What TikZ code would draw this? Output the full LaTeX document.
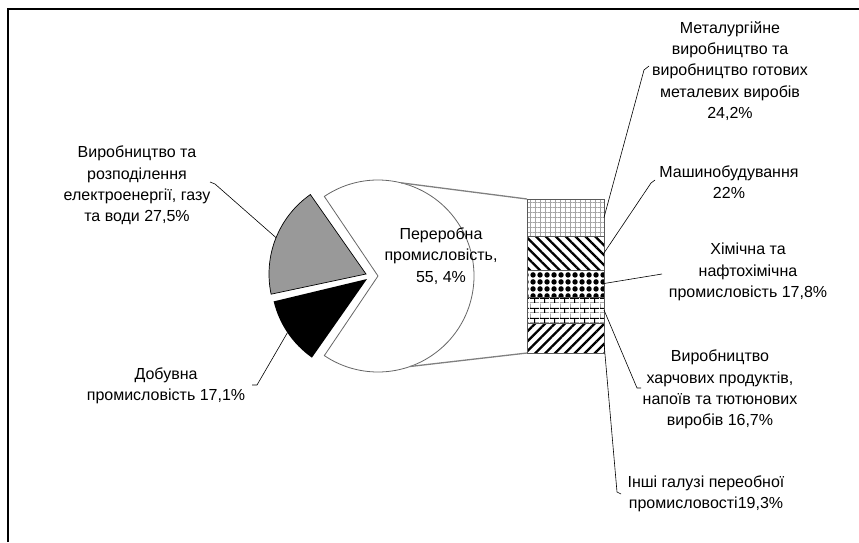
\documentclass[tikz,border=0pt]{standalone}
\usepackage{fontspec}
\setmainfont{Liberation Sans}
\usepackage{tikz}
\usetikzlibrary{positioning,patterns.meta,calc}

\tikzdeclarepattern{
  name=brickwall,
  type=uncolored,
  bounding box={(0,0) and (10pt,10pt)},
  tile size={(10pt,10pt)},
  code={
    \draw[line width=1pt] (0,0)--(10pt,0) (0,5pt)--(10pt,5pt) (5pt,0)--(5pt,5pt) (0,5pt)--(0,10pt);
  }
}

\begin{document}
\begin{tikzpicture}[x=1pt,y=1pt,node distance=0pt,outer sep=0pt,inner sep=0pt]
      \tikzset{segment/.style={shape=rectangle,minimum width=77pt,draw=gray!70!black,line width=0.7pt}}
      \tikzset{note/.style={align=center,font=\fontsize{16}{21.3}\selectfont}}
      \tikzset{leader/.style={draw=black,line width=0.6pt}}
      \tikzset{link/.style={draw=gray,line width=1.3pt}}

      \useasboundingbox (0,0) rectangle (859,-542);
      \draw[line width=1.2pt] (8,-542) -- (8,-9) -- (859,-9);

      % pie
      \coordinate (white) at (378,-276);
      \coordinate (grey) at (366,-274);
      \coordinate (dark) at (367,-279);
      \draw[gray!80!black,line width=0.8pt,fill=white] (white) -- ++(124:96) arc[start angle=124,end angle=-124,radius=96] -- cycle;
      \draw[black,line width=0.7pt,fill=black!40] (grey) -- ++(125:97) arc[start angle=125,end angle=192,radius=97] -- cycle;
      \fill[black] (dark) -- ++(193.5:96) arc[start angle=193.5,end angle=235,radius=96] -- cycle;
      \node [note] (proc) at (441,-256) {Переробна\\промисловість,\\55, 4\%};

      % bar
      \node [segment,minimum height=37pt,anchor=north west,pattern={Hatch[distance=5pt,line width=0.5pt]},pattern color=gray!70] (metal) at (527,-199) {};
      \node [segment,minimum height=34pt,below=of metal,pattern={Lines[angle=-45,distance=7pt,line width=2.3pt]}] (machine) {};
      \node [segment,minimum height=27pt,below=of machine,pattern={Dots[distance=6.5pt,radius=2.9pt]}] (chem) {};
      \node [segment,minimum height=26pt,below=of chem,pattern=brickwall] (food) {};
      \node [segment,minimum height=30pt,below=of food,pattern={Lines[angle=45,distance=7pt,line width=2.3pt]}] (other) {};

      \coordinate (pietop) at ($(white)+(76:96)$);
      \coordinate (piebottom) at ($(white)+(-70.5:96)$);
      \draw[link] (pietop) -- (metal.north west);
      \draw[link] (piebottom) -- (other.south west);

      % labels
      \node [note] (metaltext) at (730,-71) {Металургійне\\виробництво та\\виробництво готових\\металевих виробів\\24,2\%};
      \node [note] (machinetext) at (729,-182) {Машинобудування\\22\%};
      \node [note] (chemtext) at (748,-272) {Хімічна та\\нафтохімічна\\промисловість 17,8\%};
      \node [note] (foodtext) at (720,-389.5) {Виробництво\\харчових продуктів,\\напоїв та тютюнових\\виробів 16,7\%};
      \node [note] (othertext) at (706,-494) {Інші галузі переобної\\промисловості19,3\%};
      \node [note] (powertext) at (137,-185.5) {Виробництво та\\розподілення\\електроенергії, газу\\та води 27,5\%};
      \node [note] (miningtext) at (166,-385.5) {Добувна\\промисловість 17,1\%};

      % leaders
      \coordinate (greymid) at ($(grey)+(158:97)$);
      \coordinate (darkmid) at ($(dark)+(214:96)$);
      \draw[leader] (metal.east) -- (644,-70) -- (649,-66);
      \draw[leader] (machine.east) -- (651,-183) -- (655,-180);
      \draw[leader] (chem.east) -- (662,-274);
      \draw[leader] (food.east) -- (637,-388) -- (641,-388);
      \draw[leader] ([yshift=-5pt]other.east) -- (617,-492) -- (621,-494);
      \draw[leader] (greymid) -- (215,-184) -- (210,-182);
      \draw[leader] (darkmid) -- (257,-385) -- (252,-385);
    \end{tikzpicture}
\end{document}
